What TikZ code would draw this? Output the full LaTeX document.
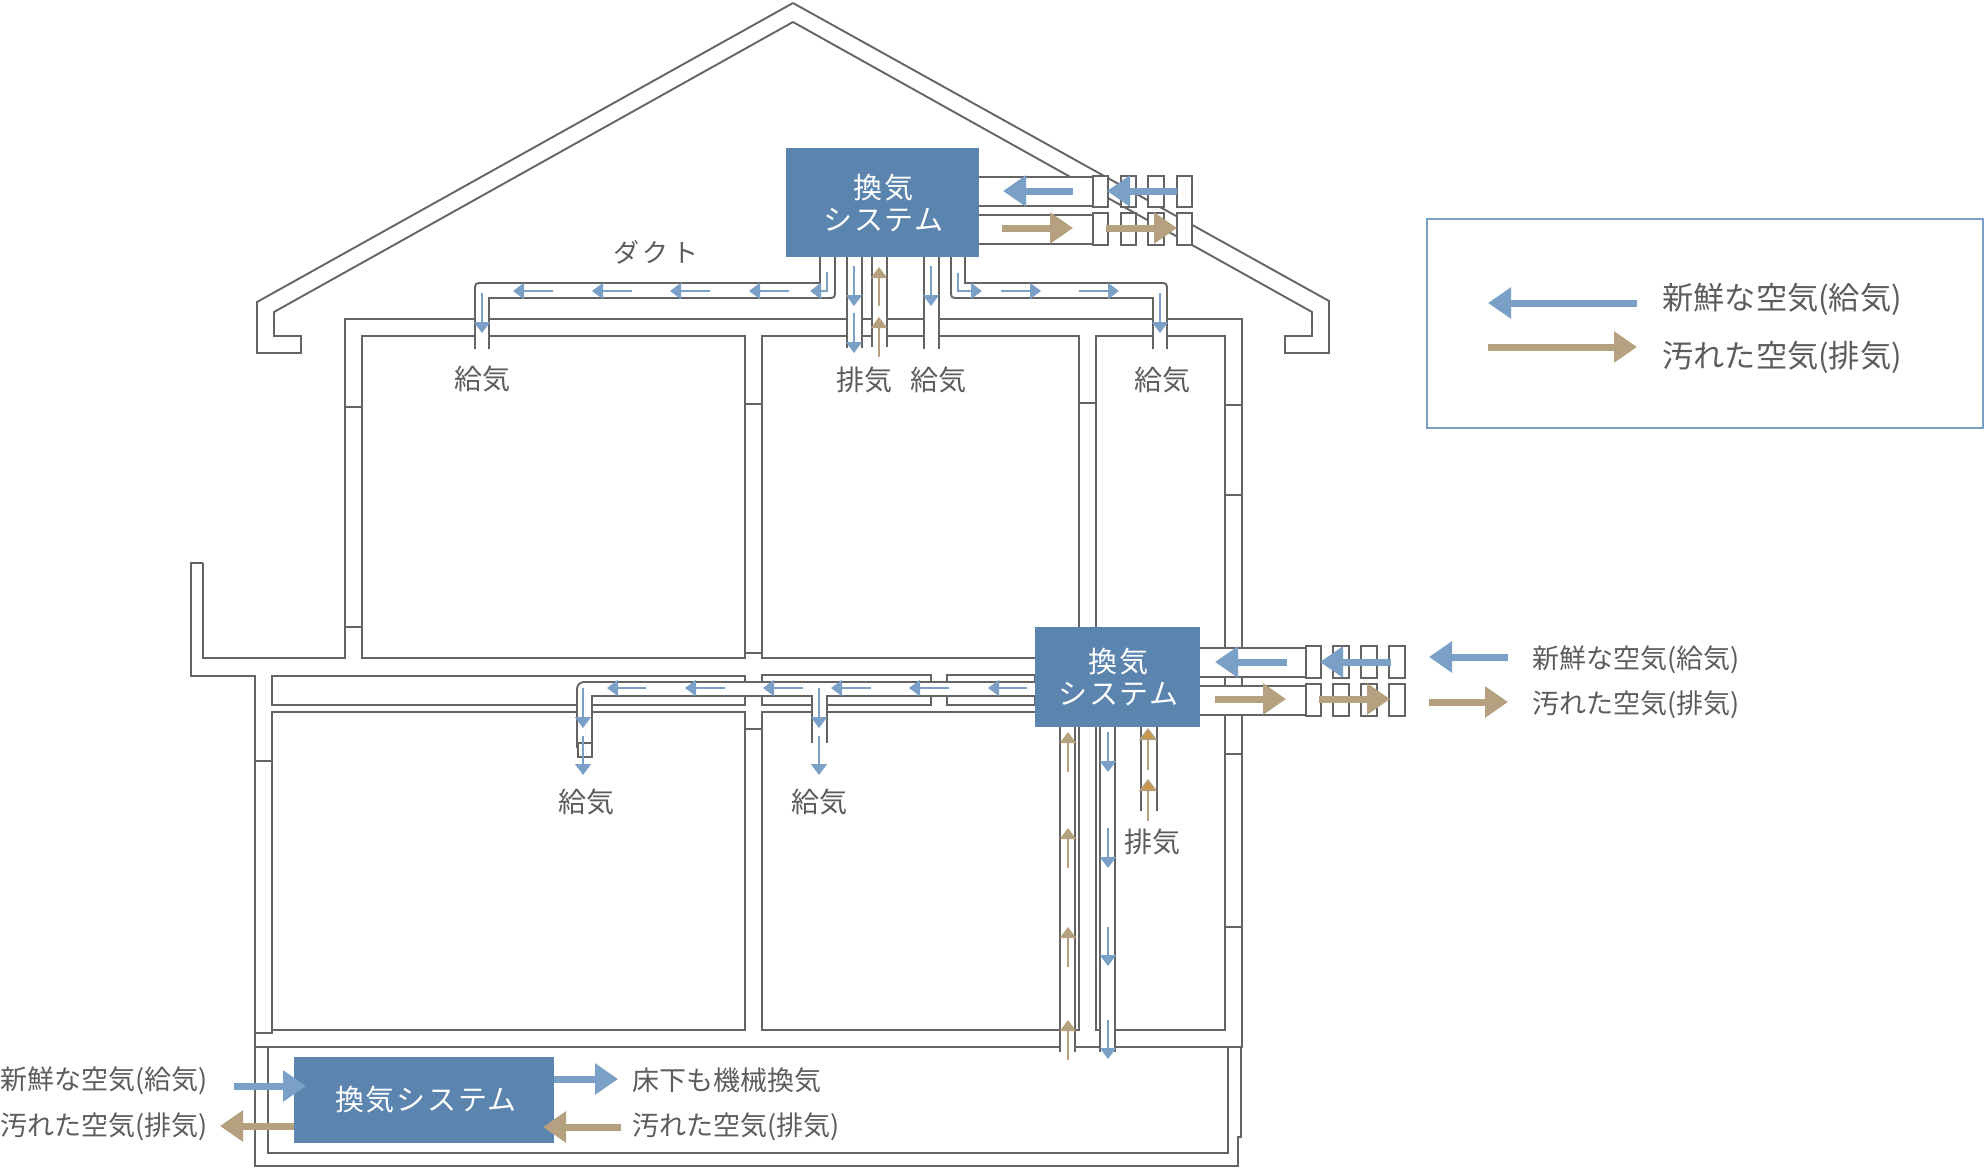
\documentclass[tikz,border=0pt]{standalone}
\usepackage{fontspec}
\usepackage{xcolor}
\usetikzlibrary{arrows.meta}
\setmainfont{Noto Sans CJK JP}
\newfontfamily\boxfont[LetterSpace=6]{Noto Sans CJK JP}
\newfontfamily\ductfont[LetterSpace=14]{Noto Sans CJK JP}
\definecolor{WallGray}{RGB}{100,100,100}
\definecolor{TextGray}{RGB}{92,92,92}
\definecolor{BoxBlue}{RGB}{91,132,174}
\definecolor{SupplyBlue}{RGB}{122,160,200}
\definecolor{ExhaustTan}{RGB}{181,160,127}
\definecolor{ExhaustOrange}{RGB}{205,150,70}
\tikzset{
    wall/.style={draw=WallGray, line width=0.95pt, line join=miter},
    sysbox/.style={fill=BoxBlue, text=white, align=center, inner sep=0pt, font=\boxfont\fontsize{14.5}{16}\selectfont},
    airlabel/.style={text=TextGray, inner sep=0pt, font=\fontsize{14}{16}\selectfont},
    sidelabel/.style={text=TextGray, inner sep=0pt, anchor=west, font=\fontsize{13.5}{16}\selectfont},
    legendlabel/.style={text=TextGray, inner sep=0pt, anchor=west, font=\fontsize{15.6}{18}\selectfont},
    supplybig/.style={draw=SupplyBlue, line width=3.5pt, -{Triangle[length=11.5pt,width=15pt]}},
    exhaustbig/.style={draw=ExhaustTan, line width=3.5pt, -{Triangle[length=11.5pt,width=15pt]}},
    supplythin/.style={draw=SupplyBlue, line width=0.8pt, -{Triangle[length=5.5pt,width=8pt]}},
    exhaustthin/.style={draw=ExhaustTan, line width=0.8pt, -{Triangle[length=5.5pt,width=8pt]}},
    exhausthot/.style={draw=ExhaustTan, line width=0.8pt, -{Triangle[length=6pt,width=9pt,fill=ExhaustOrange]}},
    louver/.style={wall, fill=white}
}
% open-ended duct, side lines only
\newcommand{\vduct}[4]{
    \fill[white] (#1,#3) rectangle (#2,#4);
    \draw[wall] (#1,#3) -- (#1,#4) (#2,#3) -- (#2,#4);
}
\begin{document}
\begin{tikzpicture}[x=0.5pt, y=-0.5pt]
    \useasboundingbox (0,0) rectangle (1984,1168);

    % --- ROOF ---
    \draw[wall] (793,3) -- (257,302) -- (257,353) -- (301,353) -- (301,336) -- (274,336) -- (274,312) -- (793,22);
    \draw[wall] (793,3) -- (1329,301) -- (1329,353) -- (1285,353) -- (1285,336) -- (1312,336) -- (1312,312) -- (793,22);

    % --- WALLS ---
    \draw[wall] (203,563) -- (191,563) -- (191,676) -- (255,676) -- (255,1166) -- (1238,1166) -- (1238,1137) -- (1241,1137) -- (1241,1047);
    \draw[wall] (203,563) -- (203,658) -- (345,658) -- (345,319) -- (1242,319) -- (1242,1047) -- (255,1047);
    \draw[wall] (268,1047) -- (268,1153) -- (1228,1153) -- (1228,1047);
    % rooms, upper floor
    \draw[wall] (362,336) rectangle (745,658);
    \draw[wall] (762,336) rectangle (1079,658);
    \draw[wall] (1096,336) rectangle (1225,1030);
    % floor sleeves
    \draw[wall] (272,676) rectangle (745,705);
    \draw[wall] (762,675) rectangle (931,705);
    \draw[wall] (947,675) rectangle (1035,705);
    % rooms, lower floor
    \draw[wall] (255,1033) -- (272,1033) -- (272,712) -- (745,712) -- (745,1030) -- (272,1030);
    \draw[wall] (1060,712) -- (762,712) -- (762,1030) -- (1079,1030) -- (1079,658);
    % wall joints
    \foreach \xa/\xb/\ya in {345/362/407, 345/362/627, 745/762/404, 745/762/653, 1079/1096/403, 1225/1242/405, 1225/1242/495, 1225/1242/754, 1225/1242/927, 255/272/761, 745/762/729}
        \draw[wall] (\xa,\ya) -- (\xb,\ya);

    % --- DUCTS, ATTIC ---
    \fill[white] (475,283) rectangle (835,298);
    \fill[white] (475,283) rectangle (489,349);
    \fill[white] (820,257) rectangle (835,298);
    \draw[wall] (475,349) -- (475,291) .. controls (475,283) .. (483,283) -- (820,283) -- (820,257);
    \draw[wall] (489,349) -- (489,298) -- (827,298) .. controls (835,298) .. (835,290) -- (835,257);
    \vduct{847}{862}{257}{348}
    \vduct{872}{887}{257}{347}
    \vduct{924}{939}{257}{349}
    \fill[white] (951,283) rectangle (1167,298);
    \fill[white] (1153,283) rectangle (1167,349);
    \fill[white] (951,257) rectangle (965,298);
    \draw[wall] (951,257) -- (951,290) .. controls (951,298) .. (959,298) -- (1153,298) -- (1153,349);
    \draw[wall] (965,257) -- (965,283) -- (1159,283) .. controls (1167,283) .. (1167,291) -- (1167,349);
    % outside, upper
    \fill[white] (979,177) rectangle (1093,206);
    \fill[white] (979,215) rectangle (1093,244);
    \draw[wall] (979,177) -- (1093,177) (979,206) -- (1093,206) (979,215) -- (1093,215) (979,244) -- (1093,244);
    \foreach \xa/\xb in {1093/1108, 1121/1136, 1148/1164, 1177/1192} {
        \draw[louver] (\xa,176) rectangle (\xb,207);
        \draw[louver] (\xa,213) rectangle (\xb,245);
    }

    % --- DUCTS, FLOOR ---
    \fill[white] (577,682) rectangle (1035,696);
    \fill[white] (577,682) rectangle (592,748);
    \fill[white] (812,696) rectangle (827,743);
    \draw[wall, rounded corners=3.5pt] (577,748) -- (577,682) -- (1035,682);
    \draw[wall] (592,748) -- (592,696) -- (812,696) -- (812,743);
    \draw[wall] (827,743) -- (827,696) -- (1035,696);
    \draw[louver] (578,743) rectangle (592,757);
    \vduct{1060}{1075}{727}{1052}
    \vduct{1100}{1115}{727}{1052}
    \vduct{1141}{1157}{727}{811}
    % outside, lower
    \fill[white] (1200,648) rectangle (1306,677);
    \fill[white] (1200,686) rectangle (1306,715);
    \draw[wall] (1200,648) -- (1306,648) (1200,677) -- (1306,677) (1200,686) -- (1306,686) (1200,715) -- (1306,715);
    \foreach \xa/\xb in {1306/1321, 1333/1349, 1361/1377, 1389/1405} {
        \draw[louver] (\xa,646) rectangle (\xb,678);
        \draw[louver] (\xa,684) rectangle (\xb,716);
    }

    % --- VENT UNITS ---
    \node[sysbox, minimum width=193*0.5pt, minimum height=109*0.5pt] (unitAttic) at (882.5,202.5) {\hspace*{1pt}換気\\\hspace*{1pt}システム};
    \node[sysbox, minimum width=165*0.5pt, minimum height=100*0.5pt] (unitFloor) at (1117.5,677) {\hspace*{1pt}換気\\\hspace*{1pt}システム};
    \node[sysbox, minimum width=260*0.5pt, minimum height=86*0.5pt] (unitBase) at (424,1100) {\hspace*{2pt}換気システム};

    % --- AIR FLOW, ATTIC ---
    \draw[supplybig] (1073,191) -- (1003,191);
    \draw[supplybig] (1177,191) -- (1107,191);
    \draw[exhaustbig] (1002,228) -- (1073,228);
    \draw[exhaustbig] (1106,228) -- (1177,228);
    \foreach \tail/\tip in {789/749, 710/670, 632/592, 553/513}
        \draw[supplythin] (\tail,291) -- (\tip,291);
    \draw[supplythin] (827,272) -- (827,291) -- (810,291);
    \draw[supplythin] (482,293) -- (482,333);
    \draw[supplythin] (958,273) -- (958,291) -- (982,291);
    \foreach \tail/\tip in {1001/1041, 1079/1119}
        \draw[supplythin] (\tail,291) -- (\tip,291);
    \draw[supplythin] (1160,293) -- (1160,333);
    \foreach \tail/\tip in {266/306, 313/353}
        \draw[supplythin] (854,\tail) -- (854,\tip);
    \foreach \tail/\tip in {306/267, 357/317}
        \draw[exhaustthin] (879,\tail) -- (879,\tip);
    \draw[supplythin] (931,266) -- (931,306);

    % --- AIR FLOW, FLOOR ---
    \draw[supplybig] (1287,662) -- (1215,662);
    \draw[supplybig] (1391,662) -- (1320,662);
    \draw[exhaustbig] (1215,699) -- (1286,699);
    \draw[exhaustbig] (1319,699) -- (1390,699);
    \foreach \tail/\tip in {1027/988, 949/909, 871/831, 803/763, 725/685, 646/607}
        \draw[supplythin] (\tail,688) -- (\tip,688);
    \foreach \xa in {583, 819}
        \foreach \tail/\tip in {688/728, 736/775}
            \draw[supplythin] (\xa,\tail) -- (\xa,\tip);
    \foreach \tail/\tip in {772/732, 868/828, 967/927, 1060/1020}
        \draw[exhaustthin] (1068,\tail) -- (1068,\tip);
    \foreach \tail/\tip in {732/772, 828/868, 927/966, 1020/1059}
        \draw[supplythin] (1108,\tail) -- (1108,\tip);
    \foreach \tail/\tip in {770/728, 821/779}
        \draw[exhausthot] (1148,\tail) -- (1148,\tip);

    % --- AIR FLOW, BASE ---
    \draw[supplybig] (234,1086) -- (306,1086);
    \draw[exhaustbig] (unitBase.west |- 0,1126) -- (220,1126);
    \draw[supplybig] (unitBase.east |- 0,1079) -- (618,1079);
    \draw[exhaustbig] (621,1127) -- (543,1127);

    % --- LABELS ---
    \node[airlabel, font=\ductfont\fontsize{13}{15}\selectfont] (lblDuct) at (656,252) {ダクト};
    \node[airlabel] (lblSupplyA) at (482,379) {給気};
    \node[airlabel] (lblExhaustA) at (864,380) {排気};
    \node[airlabel] (lblSupplyB) at (938,380) {給気};
    \node[airlabel] (lblSupplyC) at (1162,380) {給気};
    \node[airlabel] (lblSupplyD) at (586,802) {給気};
    \node[airlabel] (lblSupplyE) at (819,802) {給気};
    \node[airlabel] (lblExhaustB) at (1152,842) {排気};

    % legend beside the floor unit
    \draw[supplybig] (1508,657) -- (1429,657);
    \draw[exhaustbig] (1429,702) -- (1508,702);
    \node[sidelabel] (lblFreshFloor) at (1532,660) {新鮮な空気(給気)};
    \node[sidelabel] (lblDirtyFloor) at (1532,705) {汚れた空気(排気)};

    % legend at the base
    \node[sidelabel] (lblFreshBase) at (0,1081) {新鮮な空気(給気)};
    \node[sidelabel] (lblDirtyBase) at (0,1127) {汚れた空気(排気)};
    \node[sidelabel] (lblFloorVent) at (632,1080) {床下も機械換気};
    \node[sidelabel] (lblDirtyBaseR) at (632,1127) {汚れた空気(排気)};

    % --- MAIN LEGEND ---
    \draw[draw=SupplyBlue, line width=0.8pt] (1427,219) rectangle (1983,428);
    \draw[supplybig] (1637,303) -- (1488,303);
    \draw[exhaustbig] (1488,347) -- (1637,347);
    \node[legendlabel] (lblFreshMain) at (1662,299) {新鮮な空気(給気)};
    \node[legendlabel] (lblDirtyMain) at (1662,357) {汚れた空気(排気)};
\end{tikzpicture}
\end{document}
